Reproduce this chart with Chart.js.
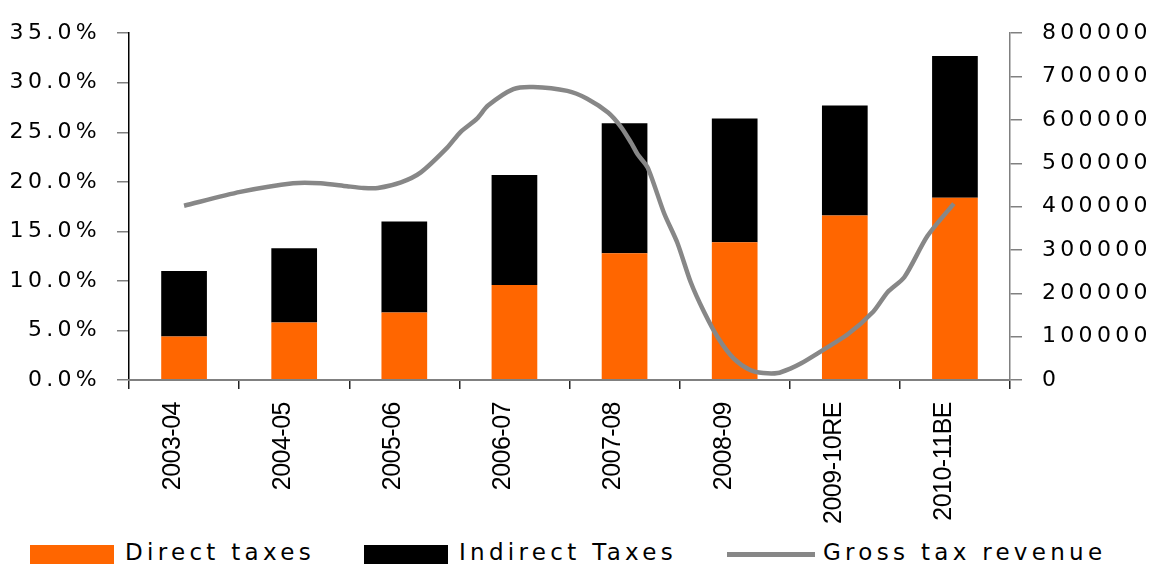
<!DOCTYPE html>
<html>
<head>
<meta charset="utf-8">
<title>Tax revenue</title>
<script src="https://cdn.jsdelivr.net/npm/chart.js@4.4.1/dist/chart.umd.min.js"></script>
<style>
  body { margin: 0; background: #fff; }
  #wrap { position: relative; width: 1161px; height: 566px; }
  #chartBox { position: absolute; left: 0; top: 0; width: 1161px; height: 530px; }
  #legend { position: absolute; left: 0; top: 540px; width: 1161px; height: 28px;
            font-family: "DejaVu Sans"; font-size: 23px; letter-spacing: 4.3px; color: #000; }
  .item { position: absolute; top: 0; height: 28px; display: flex; align-items: center; white-space: nowrap; }
  .item span.txt { position: relative; top: -2px; }
  .box { width: 84px; height: 19px; margin-right: 11px; }
  .line { width: 88px; height: 5px; margin-right: 8px; }
</style>
</head>
<body>
<div id="wrap">
  <div id="chartBox"><canvas id="taxChart"></canvas></div>
  <div id="legend"></div>
</div>
<script>
// categories and bar values (% of GDP)
const categories = ["2003-04", "2004-05", "2005-06", "2006-07", "2007-08", "2008-09", "2009-10RE", "2010-11BE"];
const directTaxes = [4.4, 5.8, 6.8, 9.6, 12.8, 13.9, 16.6, 18.4];
const indirectTaxes = [6.6, 7.5, 9.2, 11.1, 13.1, 12.5, 11.1, 14.3];

// gross tax revenue (x in category units, 0 = 2003-04)
const grossX = [0, 0.51, 0.99, 1.24, 1.48, 1.63, 1.76, 1.97, 2.15, 2.39,
                2.51, 2.66, 2.76, 2.99, 3.17, 3.48, 3.66, 3.85, 3.97, 4.06,
                4.12, 4.21, 4.36, 4.48, 4.60, 4.72, 4.85, 4.99, 5.14, 5.26,
                5.39, 5.51, 5.60, 5.75, 6.03, 6.26, 6.39, 6.54, 6.75, 6.99];
const grossY = [402000, 434000, 454000, 454000, 447000, 443000, 443000, 456000, 479000, 536000,
                572000, 603000, 633000, 671000, 676000, 667000, 649000, 617000, 583000, 547000,
                520000, 490000, 384000, 316000, 226000, 158000, 97000, 50000, 23000, 16000,
                16000, 27000, 38000, 61000, 106000, 158000, 203000, 237000, 332000, 407000];

const grossPoints = grossX.map((x, i) => ({ x: x, y: grossY[i] }));

// wide letter spacing for the value axes, tighter for the rotated year labels
const tickSpacing = {
    id: "tickSpacing",
    beforeDraw(chart) { chart.ctx.letterSpacing = "4.3px"; },
    afterDatasetsDraw(chart) { chart.ctx.letterSpacing = "-0.5px"; }
};

let ctx = document.getElementById("taxChart").getContext("2d");

let taxChart = new Chart(ctx, {
    type: "bar",
    data: {
        labels: categories,
        datasets: [
            { label: "Direct taxes", data: directTaxes, backgroundColor: "#ff6600", yAxisID: "y", stack: "tax",
              grouped: false, order: 1, barPercentage: 0.415, categoryPercentage: 1 },
            { label: "Indirect Taxes", data: indirectTaxes, backgroundColor: "#000000", yAxisID: "y", stack: "tax",
              grouped: false, order: 1, barPercentage: 0.415, categoryPercentage: 1 },
            { type: "line", label: "Gross tax revenue", data: grossPoints, xAxisID: "xl", yAxisID: "y2",
              borderColor: "#878787", backgroundColor: "#878787", borderWidth: 4.5, pointRadius: 0,
              tension: 0.25, order: 0 }
        ]
    },
    options: {
        responsive: true,
        maintainAspectRatio: false,
        animation: false,
        layout: { padding: { top: 26, left: 0, right: 0, bottom: 0 } },
        scales: {
            x: {
                stacked: true,
                offset: true,
                grid: { offset: true, drawOnChartArea: false, tickLength: 9, color: "#222", lineWidth: 1.5 },
                border: { color: "#808080", width: 2, z: 1 },
                ticks: { z: 1, minRotation: 90, maxRotation: 90, autoSkip: false, padding: 13, labelOffset: -11,
                         color: "#000", font: { family: "Liberation Sans", size: 25 } },
                afterFit(scale) { scale.height = 150; }
            },
            xl: { type: "linear", display: false, offset: false, min: -0.5, max: 7.5 },
            y: {
                stacked: true,
                position: "left",
                min: 0,
                max: 35,
                ticks: { stepSize: 5, padding: 16, color: "#000", font: { family: "DejaVu Sans", size: 22 },
                         callback: v => v.toFixed(1) + "%" },
                grid: { drawOnChartArea: false, tickLength: 12, color: "#808080", lineWidth: 1.5 },
                border: { color: "#000", width: 1.5 },
                afterFit(scale) { scale.width = 129; }
            },
            y2: {
                position: "right",
                min: 0,
                max: 800000,
                ticks: { stepSize: 100000, padding: 20, color: "#000", font: { family: "DejaVu Sans", size: 22 },
                         callback: v => String(v) },
                grid: { drawOnChartArea: false, tickLength: 12, color: "#808080", lineWidth: 1.5 },
                border: { color: "#808080", width: 1.5 },
                afterFit(scale) { scale.width = 151; }
            }
        },
        plugins: {
            legend: { display: false },
            tooltip: { enabled: false }
        }
    },
    plugins: [tickSpacing]
});

// html legend below the canvas
function buildLegend(chart) {
    let legendEl = document.getElementById("legend");
    let lefts = [30, 364, 727];
    chart.data.datasets.forEach((ds, i) => {
        let item = document.createElement("div");
        item.className = "item";
        item.style.left = lefts[i] + "px";
        let mark = document.createElement("span");
        mark.className = ds.type === "line" ? "line" : "box";
        mark.style.background = ds.type === "line" ? ds.borderColor : ds.backgroundColor;
        let txt = document.createElement("span");
        txt.className = "txt";
        txt.textContent = ds.label;
        item.appendChild(mark);
        item.appendChild(txt);
        legendEl.appendChild(item);
    });
}
buildLegend(taxChart);
</script>
</body>
</html>
